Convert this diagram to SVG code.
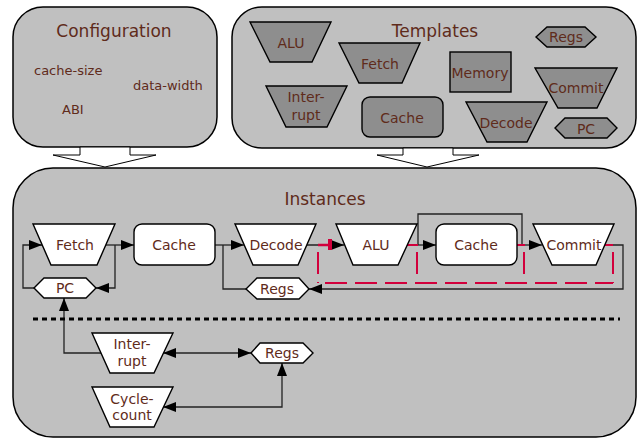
<svg xmlns="http://www.w3.org/2000/svg" width="638" height="439" viewBox="0 0 638 439">
<defs>
<style>
.box{fill:#c0c0c0;stroke:#000;stroke-width:1.5}
.tn{fill:#8e8e8e;stroke:#000;stroke-width:1.4}
.in{fill:#fff;stroke:#000;stroke-width:1.4}
.blk{fill:#fff;stroke:#000;stroke-width:1}
text{font-family:"DejaVu Sans","Liberation Sans",sans-serif;fill:#5f2b1b;text-anchor:middle}
.t{font-size:17px}
.s{font-size:13px;text-anchor:start}
.l{font-size:14px}
.c{fill:none;stroke:#222;stroke-width:1.3}
.red{fill:none;stroke:#d2003c;stroke-width:2;stroke-dasharray:22 8;stroke-dashoffset:23}
.dot{fill:none;stroke:#000;stroke-width:3;stroke-dasharray:5 4}
</style>
<marker id="ah" markerUnits="userSpaceOnUse" markerWidth="14" markerHeight="11" refX="13" refY="5" orient="auto-start-reverse">
<path d="M0,0 L13,5 L0,10 Z" fill="#000"/>
</marker>
</defs>

<g id="configuration">
<rect class="box" x="13" y="7" width="204" height="140" rx="30"/>
<text class="t" x="114" y="37">Configuration</text>
<text class="s" x="34" y="75">cache-size</text>
<text class="s" x="133" y="90">data-width</text>
<text class="s" x="62" y="114">ABI</text>
</g>

<g id="templates">
<rect class="box" x="232" y="7" width="404" height="141" rx="30"/>
<text class="t" x="435" y="37">Templates</text>
<g id="t-alu"><polygon class="tn" points="250,22 331,22 312,62 270,62"/><text class="l" x="291" y="48">ALU</text></g>
<g id="t-fetch"><polygon class="tn" points="339,43 420,43 402,83 359,83"/><text class="l" x="380" y="69">Fetch</text></g>
<g id="t-memory"><rect class="tn" x="450" y="52" width="61" height="40"/><text class="l" x="480" y="78">Memory</text></g>
<g id="t-regs"><polygon class="tn" points="536,37 547,27 585,27 596,37 585,47 547,47"/><text class="l" x="566" y="42">Regs</text></g>
<g id="t-commit"><polygon class="tn" points="535,68 617,68 597,108 558,108"/><text class="l" x="576" y="93">Commit</text></g>
<g id="t-interrupt"><polygon class="tn" points="266,86 347,86 327,127 286,127"/><text class="l" x="306" y="102">Inter-</text><text class="l" x="306" y="120">rupt</text></g>
<g id="t-cache"><rect class="tn" x="362" y="97" width="81" height="40" rx="8"/><text class="l" x="402" y="123">Cache</text></g>
<g id="t-decode"><polygon class="tn" points="466,102 547,102 527,142 487,142"/><text class="l" x="506" y="128">Decode</text></g>
<g id="t-pc"><polygon class="tn" points="555,128 565,118 607,118 617,128 607,138 565,138"/><text class="l" x="586" y="134">PC</text></g>
</g>

<g id="block-arrows">
<polygon class="blk" points="80,147 80,155 53,155 105,167 156,155 130,155 130,147"/>
<polygon class="blk" points="403,148 403,155 377,155 427,167 479,155 453,155 453,148"/>
</g>

<g id="instances">
<rect class="box" x="13" y="168" width="623" height="269" rx="40"/>
<text class="t" x="325" y="205">Instances</text>
</g>

<g id="connectors">
<path class="c" d="M106,245 H134" marker-end="url(#ah)"/>
<path class="c" d="M115,245 V288 H96" marker-end="url(#ah)"/>
<path class="c" d="M34,288 H23 V245 H42" marker-end="url(#ah)"/>
<path class="c" d="M215,245 H244" marker-end="url(#ah)"/>
<path class="c" d="M223,245 V289 H247"/>
<path class="c" d="M307,245 H344" marker-end="url(#ah)"/>
<path class="c" d="M407,245 H436" marker-end="url(#ah)"/>
<path class="c" d="M418,245 V214 H522 V245"/>
<path class="c" d="M517,245 H542" marker-end="url(#ah)"/>
<path class="c" d="M605,245 H623 V289 H309" marker-end="url(#ah)"/>
<path class="c" d="M101,353 H64 V298" marker-end="url(#ah)"/>
<path class="c" d="M163,353 H251" marker-start="url(#ah)" marker-end="url(#ah)"/>
<path class="c" d="M163,407 H282 V363" marker-start="url(#ah)" marker-end="url(#ah)"/>
</g>

<g id="pipeline-region">
<path class="red" d="M318,245 V283 M417,245 V283 M524,245 V283 M613,245 V283"/>
<path class="red" d="M318,283 H613"/>
<path d="M318,245 H330" fill="none" stroke="#d2003c" stroke-width="2.5"/>
<rect x="328" y="239" width="4" height="11" fill="#d2003c"/>
<path d="M407,245 H418 M517,245 H525 M604,245 H613" fill="none" stroke="#d2003c" stroke-width="2"/>
</g>

<path id="separator" class="dot" d="M33,319 H620"/>

<g id="i-fetch"><polygon class="in" points="33,224 115,224 97,265 51,265"/><text class="l" x="75" y="250">Fetch</text></g>
<g id="i-cache1"><rect class="in" x="134" y="224" width="81" height="41" rx="8"/><text class="l" x="174" y="250">Cache</text></g>
<g id="i-decode"><polygon class="in" points="235,224 316,224 298,265 253,265"/><text class="l" x="276" y="250">Decode</text></g>
<g id="i-alu"><polygon class="in" points="336,224 417,224 398,265 353,265"/><text class="l" x="376" y="250">ALU</text></g>
<g id="i-cache2"><rect class="in" x="436" y="224" width="81" height="41" rx="8"/><text class="l" x="476" y="250">Cache</text></g>
<g id="i-commit"><polygon class="in" points="533,224 614,224 596,265 552,265"/><text class="l" x="574" y="250">Commit</text></g>
<g id="i-pc"><polygon class="in" points="34,288 44,278 86,278 96,288 86,298 44,298"/><text class="l" x="65" y="293">PC</text></g>
<g id="i-regs"><polygon class="in" points="246,289 257,278 299,278 309,289 299,299 257,299"/><text class="l" x="277" y="294">Regs</text></g>
<g id="i-interrupt"><polygon class="in" points="92,333 173,333 154,373 110,373"/><text class="l" x="132" y="349">Inter-</text><text class="l" x="132" y="366">rupt</text></g>
<g id="i-cyclecount"><polygon class="in" points="92,387 173,387 154,427 110,427"/><text class="l" x="132" y="404">Cycle-</text><text class="l" x="132" y="420">count</text></g>
<g id="i-regs2"><polygon class="in" points="251,353 260,343 303,343 313,353 303,363 260,363"/><text class="l" x="282" y="358">Regs</text></g>
</svg>
